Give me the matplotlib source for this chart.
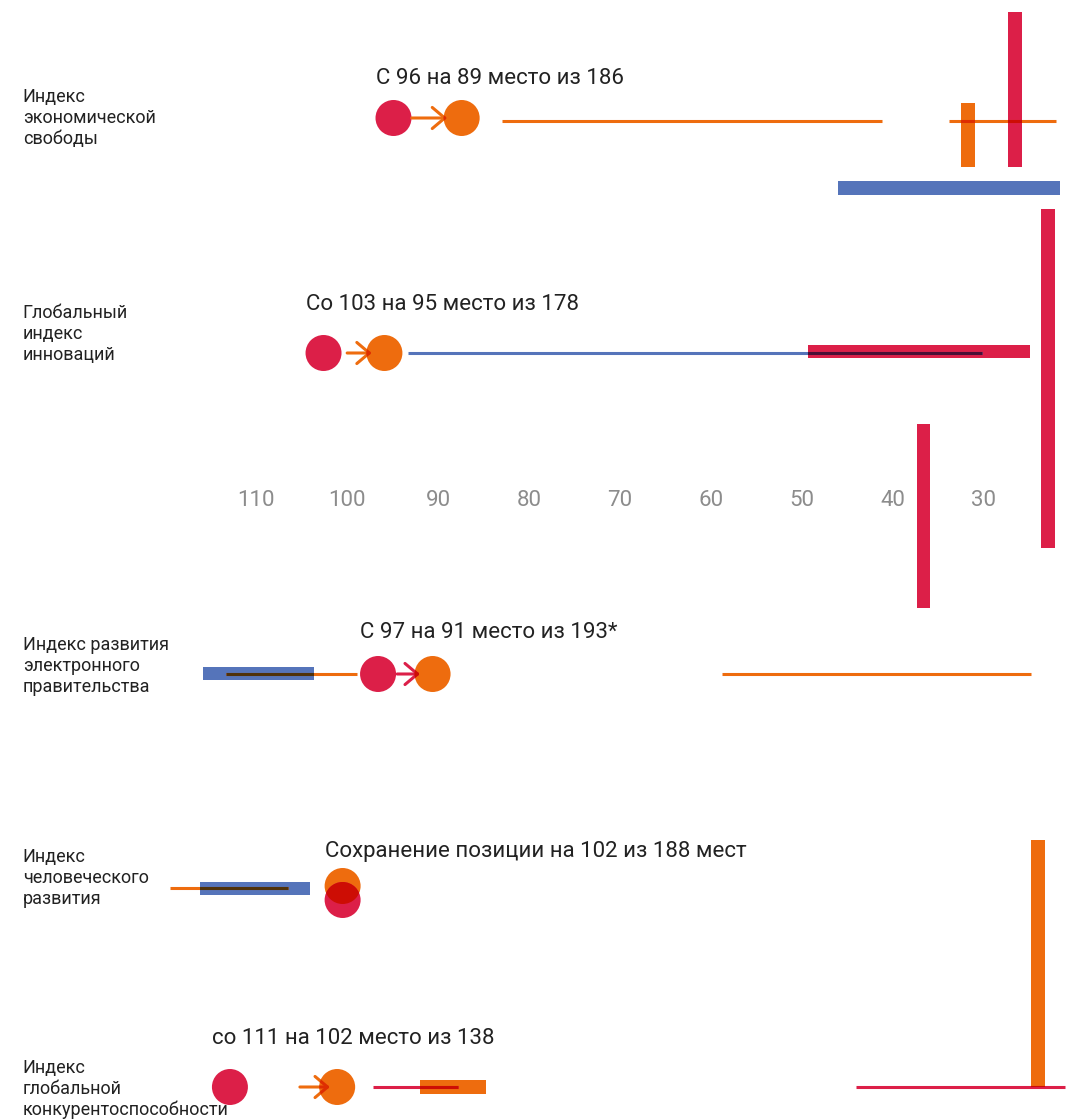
import matplotlib
matplotlib.use("Agg")
import matplotlib.pyplot as plt
from matplotlib.patches import Ellipse
from matplotlib.colors import to_rgb

plt.rcParams['font.family'] = ['Roboto', 'DejaVu Sans']

RED = '#DC1F48'
ORANGE = '#EE6C0E'
BLUE = '#5574BA'
TEXT = '#222222'
GRAY = '#8C8C8C'

# ---- data (ranks; y = row position, top = 0) ----
row_labels = ["Индекс\nэкономической\nсвободы",
              "Глобальный\nиндекс\nинноваций",
              "Индекс развития\nэлектронного\nправительства",
              "Индекс\nчеловеческого\nразвития",
              "Индекс\nглобальной\nконкурентоспособности"]
label_y = [118, 334, 666, 878, 1089]
titles = ["С 96 на 89 место из 186",
          "Со 103 на 95 место из 178",
          "С 97 на 91 место из 193*",
          "Сохранение позиции на 102 из 188 мест",
          "со 111 на 102 место из 138"]
title_y = [78, 305, 632, 852, 1038]

start_rank = [94.9, 102.6, 96.6, 100.5, 112.9]   # red circle
end_rank = [87.4, 95.9, 90.6, 100.5, 101.1]      # orange circle
start_y = [118, 353, 674, 900, 1087]
end_y = [118, 353, 674, 886, 1087]

arrow_from = [92.9, 100.0, 94.5, 105.2]
arrow_to = [89.0, 97.3, 92.0, 101.9]
arrow_y = [118, 353, 674, 1087]
arrow_color = [ORANGE, ORANGE, RED, ORANGE]

seg_from = [83.0, 33.8, 93.3, 113.3, 58.7, 119.5, 97.2, 44.0]
seg_to = [41.2, 22.0, 30.1, 98.9, 24.8, 106.5, 87.8, 21.0]
seg_y = [120.5, 120.5, 353, 674, 674, 888, 1087, 1087]
seg_color = [ORANGE, ORANGE, BLUE, ORANGE, ORANGE, ORANGE, RED, RED]

hbar_from = [46.0, 49.3, 115.9, 116.2, 92.0]
hbar_to = [21.6, 24.9, 103.7, 104.1, 84.7]
hbar_y = [188, 351.5, 673.5, 888.5, 1087]
hbar_color = [BLUE, RED, BLUE, BLUE, ORANGE]

vbar_x = [31.7, 26.5, 22.9, 36.6, 24.0]
vbar_top = [103, 12, 209, 424, 840]
vbar_bottom = [167, 167, 548, 608, 1087]
vbar_color = [ORANGE, RED, RED, RED, ORANGE]

tick_values = [110, 100, 90, 80, 70, 60, 50, 40, 30]
tick_labels = [str(v) for v in tick_values]

# ---- layout ----
PX_PER_RANK = 9.09
CIRCLE_D = 36      # px
BAR_T = 13.5       # px


def mult(a, b):
    return tuple(x * y for x, y in zip(to_rgb(a), to_rgb(b)))


fig = plt.figure(figsize=(10.76, 11.2), dpi=100)
ax = fig.add_axes([0, 0, 1, 1])
ax.set_xlim(138.2, 19.8)
ax.set_ylim(1120, 0)
for s in ['top', 'left', 'right', 'bottom']:
    ax.spines[s].set_visible(False)
ax.spines['bottom'].set_position(('data', 490))
ax.yaxis.set_visible(False)
ax.set_xticks(tick_values)
ax.set_xticklabels(tick_labels)
ax.tick_params(axis='x', length=0, pad=0, labelsize=16, labelcolor=GRAY)

patches = []  # (patch, colour)

# horizontal bars
for x0, x1, y, c in zip(hbar_from, hbar_to, hbar_y, hbar_color):
    b = ax.barh(y, x0 - x1, left=x1, height=BAR_T, color=c, zorder=2)[0]
    patches.append((b, c))

# vertical bars
for x, t, btm, c in zip(vbar_x, vbar_top, vbar_bottom, vbar_color):
    b = ax.bar(x, btm - t, bottom=t, width=BAR_T / PX_PER_RANK, color=c, zorder=2)[0]
    patches.append((b, c))

# circles
circle_w = CIRCLE_D / PX_PER_RANK
orange_circles = []
for i in range(len(start_rank)):
    oc = Ellipse((end_rank[i], end_y[i]), circle_w, CIRCLE_D, color=ORANGE, zorder=2, lw=0)
    ax.add_patch(oc)
    rc = Ellipse((start_rank[i], start_y[i]), circle_w, CIRCLE_D, color=RED, zorder=2.1, lw=0)
    ax.add_patch(rc)
    orange_circles.append(oc)
    # overlap of the two circles (multiply blend)
    ov = Ellipse((start_rank[i], start_y[i]), circle_w, CIRCLE_D, color=mult(RED, ORANGE), zorder=2.2, lw=0)
    ax.add_patch(ov)
    ov.set_clip_path(oc)
    patches.append((oc, ORANGE))

# thin lines
for x0, x1, y, c in zip(seg_from, seg_to, seg_y, seg_color):
    ax.plot([x0, x1], [y, y], color=c, lw=2.2, solid_capstyle='butt', zorder=3)
    for p, pc in patches:
        ln, = ax.plot([x0, x1], [y, y], color=mult(c, pc), lw=2.2,
                      solid_capstyle='butt', zorder=4)
        ln.set_clip_path(p)

# arrows
ap_kw = dict(arrowstyle='->,head_length=0.45,head_width=0.38', lw=2.2,
             shrinkA=0, shrinkB=0, mutation_scale=20)
for x0, x1, y, c in zip(arrow_from, arrow_to, arrow_y, arrow_color):
    ax.annotate('', xy=(x1, y), xytext=(x0, y),
                arrowprops=dict(color=c, **ap_kw), zorder=3)
    for oc in orange_circles:
        a = ax.annotate('', xy=(x1, y), xytext=(x0, y),
                        arrowprops=dict(color=mult(c, ORANGE), **ap_kw), zorder=4)
        a.arrow_patch.set_clip_path(oc)

# texts
label_x = 135.7
for lab, y in zip(row_labels, label_y):
    ax.text(label_x, y, lab, ha='left', va='center', fontsize=13,
            color=TEXT, linespacing=1.2)
for t, y, x in zip(titles, title_y, start_rank):
    ax.text(x + circle_w / 2, y, t, ha='left', va='center', fontsize=16, color=TEXT)

fig.savefig('out.png', dpi=100)
